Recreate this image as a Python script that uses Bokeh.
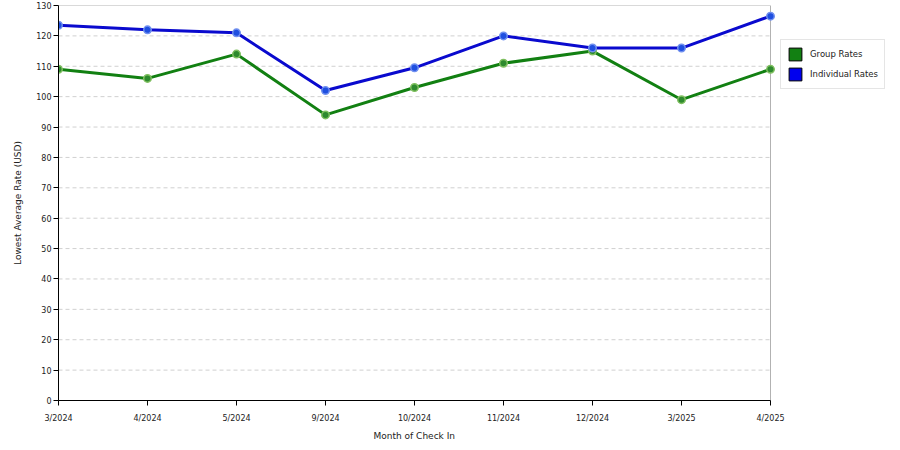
import numpy as np
from bokeh.plotting import figure
from bokeh.models import (ColumnDataSource, FixedTicker, Legend, LegendItem,
                          Range1d, BoxAnnotation, Title)
from bokeh.embed import file_html
from bokeh.resources import INLINE

# data
months = ["3/2024", "4/2024", "5/2024", "9/2024", "10/2024",
          "11/2024", "12/2024", "3/2025", "4/2025"]
group_rates = [109, 106, 114, 94, 103, 111, 115, 99, 109]
individual_rates = [123.5, 122, 121, 102, 109.5, 120, 116, 116, 126.5]
y_ticks = list(range(0, 131, 10))

FONT = "DejaVu Sans"
TXT = "#222222"
GREEN = "#128012"
BLUE = "#0a0ace"

W, H = 900, 450
LEFT, RIGHT_EDGE = 58, 770      # plot box in pixels; legend lives to the right of it
idx = list(range(len(months)))
x_last = idx[-1]
# frame runs to the page edge so the legend is not clipped; plot box ends at x_last
x_end = x_last * (W - LEFT) / (RIGHT_EDGE - LEFT)

src = ColumnDataSource(data=dict(x=idx, g=group_rates, b=individual_rates))

p = figure(width=W, height=H, output_backend="svg", toolbar_location=None,
           x_range=Range1d(0, x_end), y_range=Range1d(y_ticks[0], y_ticks[-1]),
           min_border_left=LEFT, min_border_right=0, min_border_top=5,
           min_border_bottom=50)
p.outline_line_color = None
p.xgrid.grid_line_color = None
p.ygrid.grid_line_color = None

# dashed horizontal grid, only inside the plot box
p.segment(x0=0, x1=x_last, y0=y_ticks[1:-1], y1=y_ticks[1:-1],
          line_color="#d0d0d0", line_dash="4 3", line_width=1)

# plot box border
p.add_layout(BoxAnnotation(left=0, right=x_last, bottom=y_ticks[0], top=y_ticks[-1],
                           fill_color=None, line_color="black", line_width=1,
                           level="underlay"))

# green under blue
p.line("x", "g", source=src, line_color=GREEN, line_width=3)
p.scatter("x", "g", source=src, size=7.5, fill_color="#2e8a2e", line_color="#7fbf5f", line_width=1.5)
p.line("x", "b", source=src, line_color=BLUE, line_width=3)
p.scatter("x", "b", source=src, size=7.5, fill_color="#1f4fe0", line_color="#6f8fef", line_width=1.5)

# axes
p.xaxis.ticker = FixedTicker(ticks=idx)
p.xaxis.bounds = (0, x_last)
p.xaxis.major_label_overrides = {i: m for i, m in zip(idx, months)}
p.yaxis.ticker = FixedTicker(ticks=y_ticks)
p.xaxis.minor_tick_line_color = None
p.yaxis.minor_tick_line_color = None
for ax in (p.xaxis, p.yaxis):
    ax.axis_line_color = "black"
    ax.major_tick_line_color = "black"
    ax.major_tick_in = 0
    ax.major_tick_out = 5
    ax.major_label_text_font = FONT
    ax.major_label_text_font_size = "8px"
    ax.major_label_text_color = TXT
    ax.axis_label_text_font = FONT
    ax.axis_label_text_font_size = "9px"
    ax.axis_label_text_font_style = "normal"
    ax.axis_label_text_color = TXT
p.xaxis.major_label_standoff = 8
p.yaxis.axis_label = "Lowest Average Rate (USD)"
p.yaxis.major_label_standoff = 2
p.yaxis.axis_label_standoff = 10

# x axis title, centred under the plot box rather than the whole frame
p.add_layout(Title(text="Month of Check In", align="left", offset=315,
                   text_font=FONT, text_font_size="9px", text_font_style="normal",
                   text_color=TXT, standoff=7), "below")

# legend swatches (one NaN row each, only drawn in the legend)
sw_g = p.quad(left=[np.nan], right=[np.nan], top=[np.nan], bottom=[np.nan],
              fill_color=GREEN, line_color="black")
sw_b = p.quad(left=[np.nan], right=[np.nan], top=[np.nan], bottom=[np.nan],
              fill_color="#0000ee", line_color="black")
legend = Legend(items=[LegendItem(label="Group Rates", renderers=[sw_g]),
                       LegendItem(label="Individual Rates", renderers=[sw_b])],
                location=(780 - LEFT, 400 - 89))
legend.glyph_width = 16
legend.glyph_height = 16
legend.spacing = 4
legend.padding = 6
legend.margin = 0
legend.label_standoff = 7
legend.label_text_font = FONT
legend.label_text_font_size = "8.5px"
legend.label_text_color = TXT
legend.label_height = 16
legend.border_line_color = "#cccccc"
legend.border_line_width = 1
legend.background_fill_color = "white"
p.add_layout(legend)

open("out.html", "w").write(file_html(p, INLINE))
